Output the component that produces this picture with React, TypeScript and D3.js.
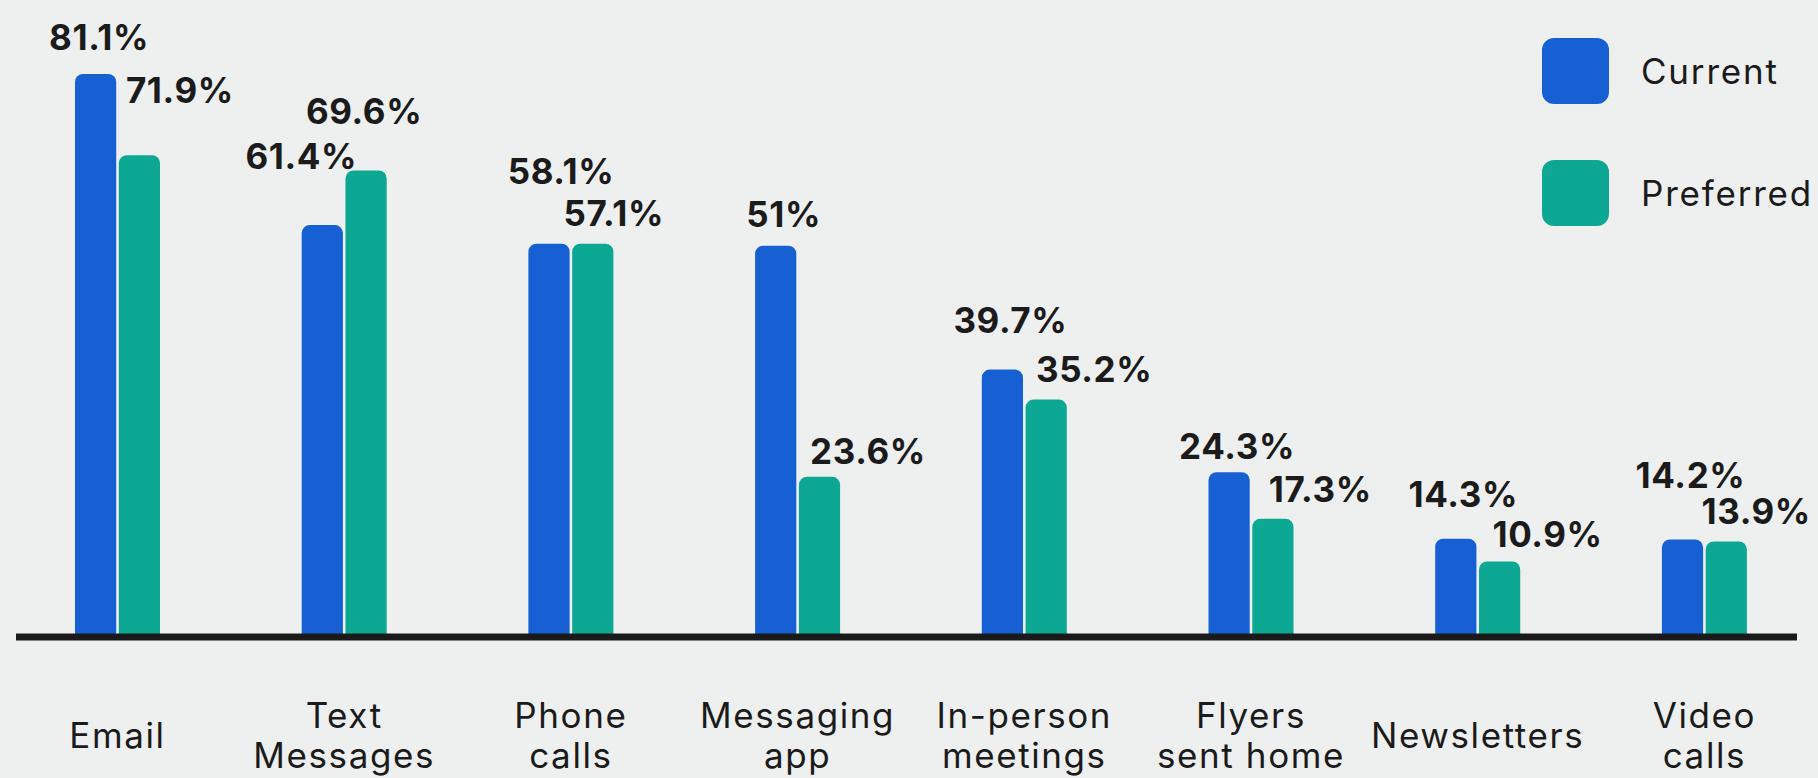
import React from "react";
import * as d3 from "d3";

const categories = [
  ["Email"],
  ["Text", "Messages"],
  ["Phone", "calls"],
  ["Messaging", "app"],
  ["In-person", "meetings"],
  ["Flyers", "sent home"],
  ["Newsletters"],
  ["Video", "calls"],
];
const seriesNames = ["Current", "Preferred"];
// bar heights as drawn in the picture (%)
const currentValues = [84.1, 61.4, 58.6, 58.3, 39.7, 24.3, 14.3, 14.2];
const preferredValues = [71.9, 69.6, 58.6, 23.6, 35.2, 17.3, 10.9, 13.9];
// printed value labels
const currentLabels = ["81.1%", "61.4%", "58.1%", "51%", "39.7%", "24.3%", "14.3%", "14.2%"];
const preferredLabels = ["71.9%", "69.6%", "57.1%", "23.6%", "35.2%", "17.3%", "10.9%", "13.9%"];

// label placement offsets (layout): [dx from bar centre, dy baseline from bar top]
const currentLabelOffsets = [[3.5, -24], [-21, -56], [12, -60], [8, -19], [8, -37], [8, -13], [7.5, -32], [8, -51]];
const preferredLabelOffsets = [[40.5, -52], [-2, -46], [21, -18], [48.5, -13], [48, -18], [47.5, -17], [48, -14], [30, -17]];

const W = 1818;
const H = 778;
const BG = "#EEF0EF";
const BLUE = "#1660D3";
const TEAL = "#0DA893";
const INK = "#1b1b1b";
const FONT = "Inter, 'Noto Sans', sans-serif";

function topRoundedRect(x: number, y: number, w: number, h: number, r: number) {
  const rr = Math.min(r, h, w / 2);
  const p = d3.path();
  p.moveTo(x, y + h);
  p.lineTo(x, y + rr);
  p.arcTo(x, y, x + rr, y, rr);
  p.lineTo(x + w - rr, y);
  p.arcTo(x + w, y, x + w, y + rr, rr);
  p.lineTo(x + w, y + h);
  p.closePath();
  return p.toString();
}

export default function App() {
  const keys = categories.map((c) => c.join(" "));
  const x = d3.scaleBand<string>().domain(keys).range([4.15, 4.15 + 226.7 * 8]).padding(0);
  const xs = d3.scaleBand<string>().domain(seriesNames).range([-42.5, 42.5]).paddingInner(5 / 85).paddingOuter(0);
  const baseY = 634;
  const y = d3.scaleLinear().domain([0, 100]).range([baseY, baseY - 666]);
  const colors = d3.scaleOrdinal<string, string>().domain(seriesNames).range([BLUE, TEAL]);

  const series = [
    { name: "Current", values: currentValues, labels: currentLabels, offsets: currentLabelOffsets },
    { name: "Preferred", values: preferredValues, labels: preferredLabels, offsets: preferredLabelOffsets },
  ];

  return (
    <svg
      width={W}
      height={H}
      viewBox={`0 0 ${W} ${H}`}
      style={{ position: "absolute", left: 0, top: 0, display: "block", background: BG }}
    >
      <rect x={0} y={0} width={W} height={H} fill={BG} />
      {series.map((s) =>
        keys.map((k, i) => {
          const cx = (x(k) as number) + x.bandwidth() / 2;
          const bx = cx + (xs(s.name) as number);
          const bw = xs.bandwidth();
          const top = y(s.values[i]);
          return (
            <g key={s.name + k}>
              <path d={topRoundedRect(bx, top, bw, baseY - top, 8)} fill={colors(s.name)} />
              <text
                x={bx + bw / 2 + s.offsets[i][0]}
                y={top + s.offsets[i][1]}
                textAnchor="middle"
                fontFamily={FONT}
                fontWeight={700}
                fontSize={35}
                letterSpacing={0.6}
                fill={INK}
              >
                {s.labels[i]}
              </text>
            </g>
          );
        })
      )}
      <line x1={16} x2={1797} y1={637} y2={637} stroke="#1a1a1a" strokeWidth={7} />
      {categories.map((lines, i) => {
        const cx = (x(keys[i]) as number) + x.bandwidth() / 2;
        const y0 = lines.length === 1 ? 748 : 728;
        return (
          <text
            key={keys[i]}
            x={cx}
            textAnchor="middle"
            fontFamily={FONT}
            fontWeight={400}
            fontSize={35}
            letterSpacing={1.6}
            fill={INK}
          >
            {lines.map((l, j) => (
              <tspan key={j} x={cx} y={y0 + j * 40}>
                {l}
              </tspan>
            ))}
          </text>
        );
      })}
      {seriesNames.map((n, i) => (
        <g key={n} transform={`translate(1542, ${38 + i * 122})`}>
          <rect width={67} height={66} rx={12} fill={colors(n)} />
          <text x={99} y={46} fontFamily={FONT} fontSize={35} letterSpacing={1.8} fill={INK}>
            {n}
          </text>
        </g>
      ))}
    </svg>
  );
}
